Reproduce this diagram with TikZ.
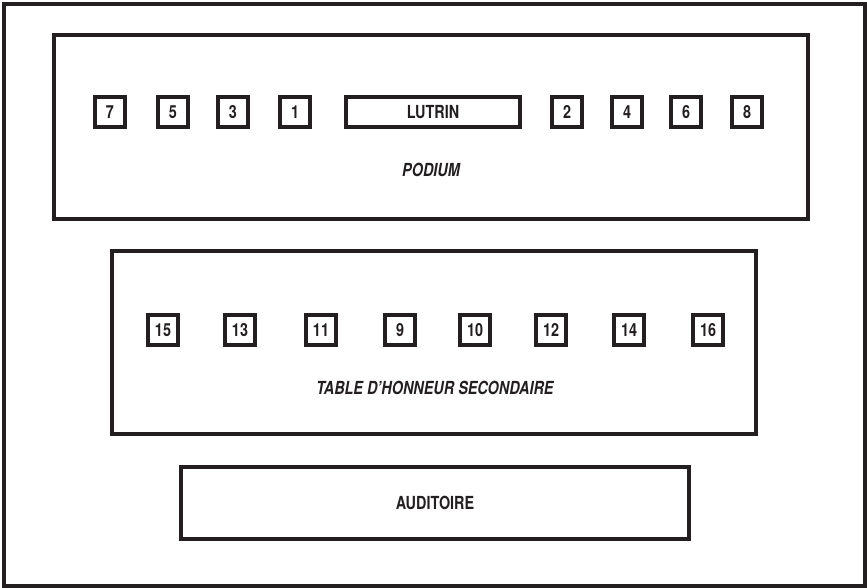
\documentclass[tikz,border=0pt]{standalone}
\usepackage{fontspec}
\setmainfont{TeX Gyre Heros}[FakeStretch=0.8]
\definecolor{ink}{HTML}{231F20}
\begin{document}
\begin{tikzpicture}[x=1pt,y=-1pt,
  frame/.style={draw=ink,line width=4pt},
  seat/.style={frame,minimum width=30pt,minimum height=30pt,inner sep=0pt,
    font=\fontsize{18}{21}\selectfont\bfseries,text=ink},
  bigbox/.style={frame,inner sep=0pt},
  lbl/.style={font=\fontsize{18}{21}\selectfont\bfseries\itshape,text=ink,inner sep=0pt}]
\useasboundingbox (0,0) rectangle (867,588);
\draw[frame] (4,4.5) rectangle (865,586);
% podium
\node[bigbox,minimum width=754pt,minimum height=184pt] (podium) at (431,127) {};
\node[lbl] (podiumlbl) at (431,170) {PODIUM};
\node[seat,minimum width=174pt] (lutrin) at (433,112) {LUTRIN};
\node[seat] (s7) at (110,112) {7};
\node[seat] (s5) at (173,112) {5};
\node[seat] (s3) at (233,112) {3};
\node[seat] (s1) at (295,112) {1};
\node[seat] (s2) at (567,112) {2};
\node[seat] (s4) at (627,112) {4};
\node[seat] (s6) at (686,112) {6};
\node[seat] (s8) at (747,112) {8};
% table
\node[bigbox,minimum width=644pt,minimum height=183pt] (table) at (434,342.5) {};
\node[lbl] (tablelbl) at (435,388) {TABLE D’HONNEUR SECONDAIRE};
\node[seat] (s15) at (163,330) {15};
\node[seat] (s13) at (240,330) {13};
\node[seat] (s11) at (321,330) {11};
\node[seat] (s9) at (400,330) {9};
\node[seat] (s10) at (475,330) {10};
\node[seat] (s12) at (551,330) {12};
\node[seat] (s14) at (629,330) {14};
\node[seat] (s16) at (708,330) {16};
% auditoire
\node[bigbox,minimum width=508pt,minimum height=72pt,
  font=\fontsize{18}{21}\selectfont\bfseries,text=ink] (aud) at (435,503) {AUDITOIRE};
\end{tikzpicture}
\end{document}
